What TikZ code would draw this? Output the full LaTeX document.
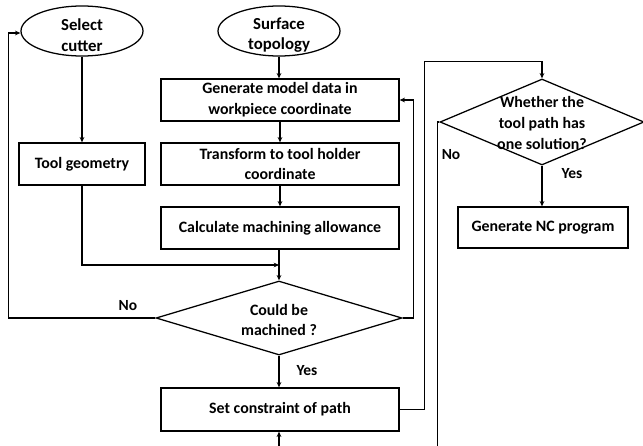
\documentclass[tikz,border=0pt]{standalone}
\usepackage{fontspec}
\setmainfont{Carlito}
\usetikzlibrary{shapes.geometric,arrows.meta,calc}
\begin{document}
\begin{tikzpicture}[x=0.75pt,y=-0.75pt,
  every node/.style={font=\bfseries\fontsize{11.9}{15.6}\selectfont, align=center, inner sep=0pt},
  box/.style={draw, line width=0.95pt, minimum width=178.5pt, minimum height=31.5pt},
  oval/.style={draw, ellipse, line width=0.95pt, minimum width=91.5pt, minimum height=37.5pt},
  ovaltext/.style={font=\bfseries\fontsize{12.6}{15.6}\selectfont},
  dia/.style={draw, diamond, line width=0.95pt},
  lbl/.style={font=\bfseries\fontsize{11.6}{13}\selectfont},
  arr/.style={line width=0.95pt, -{Stealth[length=4pt,width=3.5pt]}}
]
\useasboundingbox (0,0) rectangle (643,446);
\clip (0,0) rectangle (643,446);

% nodes
\node[oval] (sel) at (82,31) {};
\node[ovaltext] at (82,35) {Select\\cutter};
\node[oval] (surf) at (279,31) {};
\node[ovaltext] at (279,35) {Surface\\topology};
\node[box, minimum width=94.5pt] (tool) at (82,164) {Tool geometry};
\node[box] (gen) at (280,100) {Generate model data in\\workpiece coordinate};
\node[box] (trans) at (280,164) {Transform to tool holder\\coordinate};
\node[box] (calc) at (280,228) {Calculate machining allowance};
\node[dia, minimum width=184.5pt, minimum height=55.5pt] (d1) at (279,318) {};
\node at (279,320) {Could be\\machined ?};
\node[box, minimum height=32.25pt] (set) at (280,409.5) {Set constraint of path};
\node[dia, minimum width=153pt, minimum height=64.5pt] (d2) at (542,122) {};
\node at (542,123) {Whether the\\tool path has\\one solution?};
\node[box, minimum width=127.5pt, minimum height=30.75pt] (nc) at (543,227.5) {Generate NC program};

% labels
\node[lbl] at (128,306) {No};
\node[lbl] at (307,371) {Yes};
\node[lbl] at (451,155) {No};
\node[lbl] at (572,174) {Yes};

% connectors
\draw[arr] (sel.south) -- (tool.north);
\coordinate (join) at (279,265);
\draw[arr] (tool.south) |- (join);
\draw[arr] (surf.south) -- (gen.north -| surf.south);
\draw[arr] (gen.south) -- (trans.north);
\draw[arr] (trans.south) -- (calc.north);
\draw[arr] (calc.south -| d1.north) -- (d1.north);
\draw[arr] (d1.south) -- (set.north -| d1.south);
\draw[arr] (d1.west) -- ++(-147,0) |- ($(sel.west)+(0,2)$);
\draw[arr] (d1.east) -- ++(11,0) |- (gen.east);
\draw[arr] (set.east) -- ++(25,0) |- ($(d2.north)+(0,-17)$) -- (d2.north);
\draw[arr] (d2.south) -- (nc.north -| d2.south);
\draw[arr] (d2.west) -- ++(-2,0) -- ++(0,340) -| (set.south -| d1.south);
\end{tikzpicture}
\end{document}
